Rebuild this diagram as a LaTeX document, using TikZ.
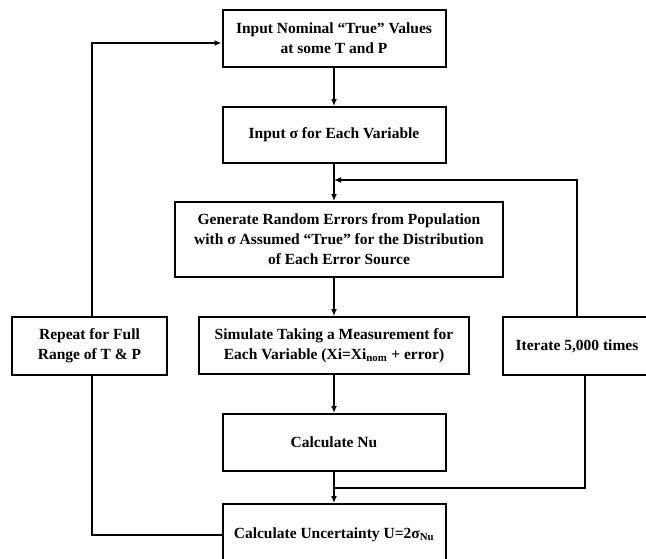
\documentclass[tikz,border=0pt]{standalone}
\usepackage{fontspec}
\setmainfont{Liberation Serif}
\usetikzlibrary{arrows.meta}
\begin{document}
\begin{tikzpicture}[x=1pt,y=-1pt,
  stepbox/.style={draw,line width=2pt,align=center,inner sep=0pt,
    font=\bfseries\fontsize{15.5}{20}\selectfont},
  link/.style={line width=1.8pt},
  tip/.style={-{Latex[length=7pt,width=6pt]}}]
\useasboundingbox (0,0) rectangle (646,558);
\clip (0,0) rectangle (646,558);
\node[stepbox,minimum width=223pt,minimum height=57pt] (nominal) at (334,38.5){Input Nominal “True” Values\\at some T and P};
\node[stepbox,minimum width=223pt,minimum height=56pt] (sigma) at (334,135){Input σ for Each Variable};
\node[stepbox,minimum width=328pt,minimum height=75pt] (errors) at (339,239.5){Generate Random Errors from Population\\with σ Assumed “True” for the Distribution\\of Each Error Source};
\node[stepbox,minimum width=155pt,minimum height=58pt] (repeat) at (89.5,346){Repeat for Full\\Range of T \& P};
\node[stepbox,minimum width=270pt,minimum height=57pt] (simulate) at (334,345.5){Simulate Taking a Measurement for\\Each Variable (Xi=Xi\textsubscript{nom} + error)};
\node[stepbox,minimum width=148pt,minimum height=58pt] (iterate) at (577,346){Iterate 5,000 times};
\node[stepbox,minimum width=223pt,minimum height=57pt] (nu) at (334,442.5){Calculate Nu};
\node[stepbox,minimum width=223pt,minimum height=62pt] (uncert) at (334,535){Calculate Uncertainty U=2σ\textsubscript{Nu}};

% main column
\draw[link][tip] (nominal) -- (sigma);
\draw[link][tip] (sigma) -- (sigma |- errors.north);
\draw[link][tip] (simulate |- errors.south) -- (simulate);
\draw[link][tip] (simulate) -- (nu);
\draw[link][tip] (nu) -- (uncert);

% iterate loop
\coordinate (jtop) at (334,180);
\coordinate (jbot) at (334,488);
\draw[link] ([xshift=8pt]iterate.south) |- (jbot);
\draw[link][tip] (iterate.north) |- (jtop);

% repeat loop
\draw[link] (uncert.west) -| ([xshift=2.5pt]repeat.south);
\draw[link][tip] ([xshift=2.5pt]repeat.north) |- ([yshift=-4.5pt]nominal.west);
\end{tikzpicture}
\end{document}
